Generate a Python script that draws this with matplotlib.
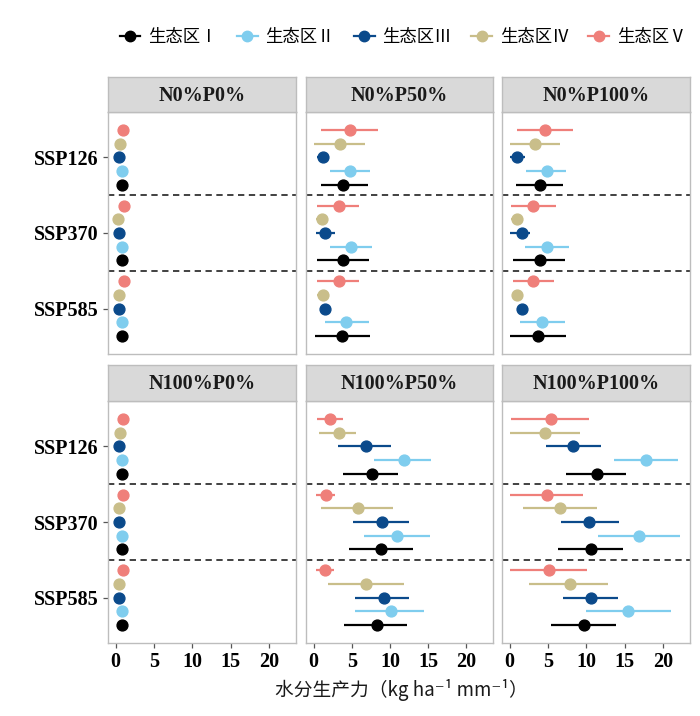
import matplotlib
matplotlib.use("Agg")
import matplotlib.pyplot as plt
from matplotlib.lines import Line2D

# ---------------- data ----------------
treatments = ["N0%P0%", "N0%P50%", "N0%P100%", "N100%P0%", "N100%P50%", "N100%P100%"]
scenarios = ["SSP126", "SSP370", "SSP585"]
zones = ["生态区Ⅰ", "生态区Ⅱ", "生态区Ⅲ", "生态区Ⅳ", "生态区Ⅴ"]
zone_colors = ["#000000", "#7FCDEE", "#0B4A8B", "#C9BE8A", "#EF7F7A"]

# values per zone (rows: zone I..V), columns: SSP126, SSP370, SSP585
n0p0_mean = [[0.78, 0.78, 0.78], [0.78, 0.78, 0.80], [0.45, 0.48, 0.45], [0.50, 0.25, 0.48], [1.00, 1.10, 1.10]]
n0p0_lo = [[0.70, 0.70, 0.70], [0.70, 0.70, 0.72], [0.38, 0.40, 0.38], [0.42, 0.18, 0.40], [0.92, 1.02, 1.02]]
n0p0_hi = [[0.86, 0.86, 0.86], [0.86, 0.86, 0.88], [0.52, 0.56, 0.52], [0.58, 0.32, 0.56], [1.08, 1.18, 1.18]]

n0p50_mean = [[3.9, 3.9, 3.7], [4.7, 4.9, 4.3], [1.2, 1.5, 1.5], [3.4, 1.1, 1.2], [4.7, 3.3, 3.3]]
n0p50_lo = [[0.9, 0.5, 0.2], [2.2, 2.1, 1.5], [0.4, 0.3, 0.9], [0.1, 0.3, 0.4], [1.0, 0.4, 0.5]]
n0p50_hi = [[7.1, 7.2, 7.4], [7.4, 7.6, 7.2], [2.0, 2.8, 2.2], [6.7, 1.8, 2.0], [8.4, 6.0, 5.9]]

n0p100_mean = [[3.9, 3.9, 3.7], [4.8, 4.9, 4.2], [0.9, 1.6, 1.6], [3.35, 1.0, 1.0], [4.65, 3.1, 3.1]]
n0p100_lo = [[0.8, 0.4, 0.1], [2.1, 2.0, 1.3], [0.1, 0.1, 0.9], [0.0, 0.2, 0.4], [1.0, 0.2, 0.4]]
n0p100_hi = [[7.0, 7.2, 7.3], [7.3, 7.7, 7.2], [2.0, 2.7, 2.3], [6.6, 1.7, 1.7], [8.3, 6.0, 5.8]]

n100p0_mean = [[0.78, 0.78, 0.78], [0.78, 0.78, 0.78], [0.47, 0.47, 0.47], [0.56, 0.40, 0.47], [0.90, 1.00, 1.00]]
n100p0_lo = [[0.70, 0.70, 0.70], [0.70, 0.70, 0.70], [0.40, 0.40, 0.40], [0.48, 0.32, 0.40], [0.82, 0.92, 0.92]]
n100p0_hi = [[0.86, 0.86, 0.86], [0.86, 0.86, 0.86], [0.54, 0.54, 0.54], [0.64, 0.48, 0.54], [0.98, 1.08, 1.08]]

n100p50_mean = [[7.6, 8.8, 8.3], [11.8, 10.9, 10.2], [6.8, 9.0, 9.2], [3.3, 5.8, 6.9], [2.1, 1.6, 1.5]]
n100p50_lo = [[3.9, 4.6, 4.0], [7.9, 6.6, 5.4], [3.2, 5.2, 5.4], [0.7, 1.0, 1.9], [0.4, 0.3, 0.3]]
n100p50_hi = [[11.1, 13.0, 12.2], [15.4, 15.2, 14.5], [10.2, 12.5, 12.5], [5.6, 10.4, 11.9], [3.9, 2.8, 2.7]]

n100p100_mean = [[11.4, 10.65, 9.65], [17.8, 16.8, 15.4], [8.3, 10.4, 10.6], [4.65, 6.6, 7.8], [5.4, 4.9, 5.1]]
n100p100_lo = [[7.4, 6.3, 5.4], [13.6, 11.5, 10.0], [4.7, 6.7, 7.0], [0.1, 1.8, 2.5], [0.2, 0.1, 0.1]]
n100p100_hi = [[15.2, 14.8, 13.9], [21.9, 22.2, 21.0], [11.9, 14.3, 14.1], [9.1, 11.4, 12.8], [10.4, 9.6, 10.1]]

panel_data = [
    (n0p0_mean, n0p0_lo, n0p0_hi),
    (n0p50_mean, n0p50_lo, n0p50_hi),
    (n0p100_mean, n0p100_lo, n0p100_hi),
    (n100p0_mean, n100p0_lo, n100p0_hi),
    (n100p50_mean, n100p50_lo, n100p50_hi),
    (n100p100_mean, n100p100_lo, n100p100_hi),
]
x_ticks = [0, 5, 10, 15, 20]

# ---------------- layout ----------------
W, H = 700, 716
fig = plt.figure(figsize=(W / 100, H / 100), dpi=100)
fig.patch.set_facecolor("white")

cols = [(108, 296), (306, 493), (502, 690)]
rows = [(112, 354), (401, 643)]
strips = [(77, 112), (365, 401)]

serif = "Liberation Serif"
cjk = ["Noto Sans CJK SC", "DejaVu Sans"]
border_col = "#BDBDBD"

def px_axes(x0, x1, y0, y1):
    return fig.add_axes([x0 / W, 1 - y1 / H, (x1 - x0) / W, (y1 - y0) / H])

# y positions: SSP126 on top
scen_y = {s: len(scenarios) - i for i, s in enumerate(scenarios)}
offsets = [-0.36, -0.18, 0.0, 0.18, 0.36]

for p, name in enumerate(treatments):
    r, c = divmod(p, 3)
    x0, x1 = cols[c]
    y0, y1 = rows[r]
    ax = px_axes(x0, x1, y0, y1)
    mean, lo, hi = panel_data[p]
    for z in range(len(zones)):
        for s_i, s in enumerate(scenarios):
            yy = scen_y[s] + offsets[z]
            ax.plot([lo[z][s_i], hi[z][s_i]], [yy, yy], color=zone_colors[z], lw=1.6,
                    solid_capstyle="butt", zorder=2)
            ax.plot([mean[z][s_i]], [yy], marker="o", ms=7.8, color=zone_colors[z],
                    mec=zone_colors[z], zorder=3, ls="none")
    for yl in [1.5, 2.5]:
        ax.axhline(yl, color="#333333", lw=1.3, ls=(0, (3.5, 2.5)), zorder=1)
    ax.set_xlim(-1.0, 23.5)
    ax.set_ylim(0.4, 3.6)
    ax.set_xticks(x_ticks)
    ax.set_yticks([scen_y[s] for s in scenarios])
    for sp in ax.spines.values():
        sp.set_color(border_col)
        sp.set_linewidth(1.0)
    ax.tick_params(axis="both", color="#555555", length=3.5, width=0.9, pad=3)
    if c == 0:
        ax.set_yticklabels(scenarios, fontfamily=serif, fontweight="bold", fontsize=14.5)
    else:
        ax.tick_params(axis="y", left=False, labelleft=False)
    if r == 1:
        ax.set_xticklabels([str(t) for t in x_ticks], fontfamily=serif, fontweight="bold", fontsize=14.5)
    else:
        ax.tick_params(axis="x", bottom=False, labelbottom=False)

    # strip
    sy0, sy1 = strips[r]
    sax = px_axes(x0, x1, sy0, sy1)
    sax.set_facecolor("#D9D9D9")
    sax.set_xticks([])
    sax.set_yticks([])
    for sp in sax.spines.values():
        sp.set_color(border_col)
        sp.set_linewidth(1.0)
    sax.text(0.5, 0.47, name, ha="center", va="center", fontfamily=serif,
             fontweight="bold", fontsize=14.5, color="#1a1a1a", transform=sax.transAxes)

# legend
handles = [Line2D([0], [0], color=zone_colors[z], lw=1.6, marker="o", ms=7.5,
                  mec=zone_colors[z]) for z in range(len(zones))]
fig.legend(handles, zones, loc="center", bbox_to_anchor=(403 / W, 1 - 37 / H), ncol=5,
           frameon=False, prop={"family": cjk, "size": 12.5}, handlelength=1.2,
           handletextpad=0.45, columnspacing=1.1)

# x label
fig.text(401 / W, 1 - 690 / H, "水分生产力（kg ha⁻¹ mm⁻¹）", ha="center", va="center",
         fontfamily=cjk, fontsize=13.5, color="#1a1a1a")

fig.savefig("out.png", dpi=100, facecolor="white")
